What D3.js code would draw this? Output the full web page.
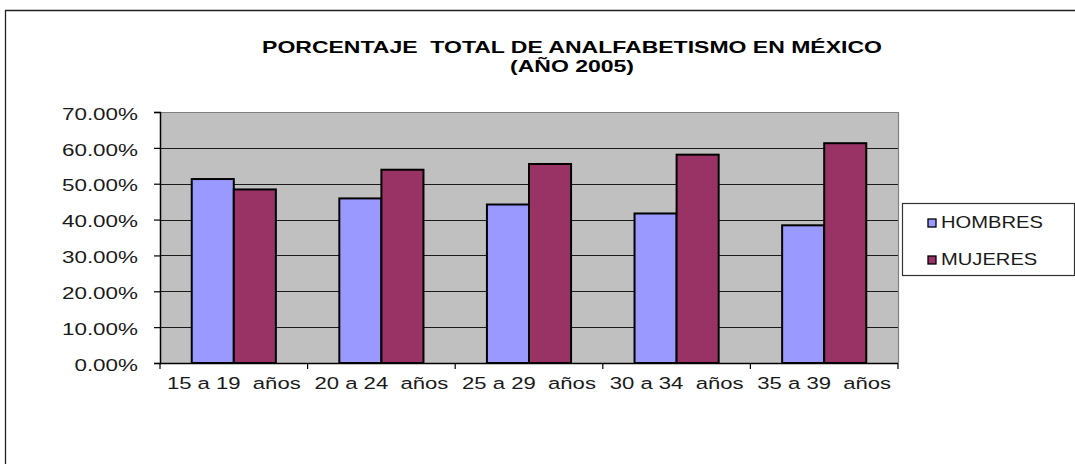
<!DOCTYPE html>
<html><head><meta charset="utf-8">
<script src="https://cdn.jsdelivr.net/npm/d3@7"></script>
<style>
body{margin:0;background:#fff}
svg{display:block}
text{font-family:"Liberation Sans",Arial,sans-serif;white-space:pre;fill:#1a1a1a}
</style>
</head><body>
<svg id="c" width="1075" height="464"></svg>
<script>
const categories = ["15 a 19  años","20 a 24  años","25 a 29  años","30 a 34  años","35 a 39  años"];
const seriesNames = ["HOMBRES","MUJERES"];
const hombres = [51.3, 45.9, 44.2, 41.7, 38.4];
const mujeres = [48.4, 53.9, 55.5, 58.1, 61.3];
const yTicks = [0, 10, 20, 30, 40, 50, 60, 70];
const titleLines = ["PORCENTAJE  TOTAL DE ANALFABETISMO EN MÉXICO", "(AÑO 2005)"];
const colors = ["#9999ff", "#993366"];

const series = [hombres, mujeres];
const svg = d3.select("#c");
const P = {left:160, right:898, top:112, bottom:363};

// outer frame
svg.append("path").attr("d","M5.5,464V10.5H1075").attr("fill","none").attr("stroke","#222").attr("stroke-width",1.3);

// plot area
svg.append("rect").attr("x",P.left).attr("y",P.top).attr("width",P.right-P.left).attr("height",P.bottom-P.top).attr("fill","#c0c0c0");

const x = d3.scaleBand().domain(categories).range([P.left,P.right]).paddingInner(0.43).paddingOuter(0.215);
const x1 = d3.scaleBand().domain(seriesNames).range([0,x.bandwidth()]);
const y = d3.scaleLinear().domain([0,70]).range([P.bottom,P.top]);

// gridlines
svg.append("g").selectAll("line").data(yTicks.filter(d=>d>0)).join("line")
  .attr("x1",P.left).attr("x2",P.right)
  .attr("y1",d=>Math.round(y(d))+0.5).attr("y2",d=>Math.round(y(d))+0.5)
  .attr("stroke",d=>d===70?"#808080":"#1a1a1a").attr("stroke-width",1.2);
// plot border right
svg.append("line").attr("x1",P.right+0.5).attr("x2",P.right+0.5).attr("y1",P.top).attr("y2",P.bottom).attr("stroke","#808080").attr("stroke-width",1.2);

// bars
const groups = svg.append("g").selectAll("g").data(categories).join("g")
  .attr("transform",d=>`translate(${x(d)},0)`);
groups.selectAll("rect").data((c,i)=>seriesNames.map((s,j)=>({s, v:series[j][i], j}))).join("rect")
  .attr("x",d=>x1(d.s)).attr("width",x1.bandwidth())
  .attr("y",d=>y(d.v)).attr("height",d=>y(0)-y(d.v))
  .attr("fill",d=>colors[d.j]).attr("stroke","#000").attr("stroke-width",2);

function stretch(sel,k){
  sel.each(function(){
    const t=d3.select(this);
    const xx=+t.attr("x")||0;
    t.attr("x",xx/k).attr("transform",`scale(${k},1)`);
  });
}

// y axis
const ya = svg.append("g").attr("transform",`translate(${P.left},0)`)
  .call(d3.axisLeft(y).tickValues(yTicks).tickSize(6).tickPadding(16).tickFormat(d=>d.toFixed(2)+"%"));
ya.select(".domain").attr("stroke","#000").attr("stroke-width",1.5);
ya.selectAll(".tick line").attr("stroke","#000").attr("stroke-width",1.2);
ya.selectAll("text").attr("font-size",17).attr("font-family",null).attr("dy","0.42em").call(stretch,1.32);

// x axis
const xa = svg.append("g").attr("transform",`translate(0,${P.bottom})`)
  .call(d3.axisBottom(x).tickSize(0).tickPadding(14));
xa.select(".domain").remove();
xa.selectAll("text").attr("font-size",17).attr("font-family",null).call(stretch,1.3);
svg.append("line").attr("x1",P.left).attr("x2",P.right).attr("y1",P.bottom+0.5).attr("y2",P.bottom+0.5).attr("stroke","#000").attr("stroke-width",1.5);
svg.append("g").selectAll("line").data(d3.range(categories.length+1)).join("line")
  .attr("x1",i=>P.left+i*x.step()).attr("x2",i=>P.left+i*x.step())
  .attr("y1",P.bottom).attr("y2",P.bottom+6).attr("stroke","#000").attr("stroke-width",1.2);

// title
svg.append("g").selectAll("text").data(titleLines).join("text")
  .attr("text-anchor","middle").attr("font-weight","bold").attr("font-size",16.5)
  .style("fill","#000")
  .attr("transform",(d,i)=>`translate(572,${52.5+i*19.5}) scale(1.395,1)`)
  .text(d=>d);

// legend
const L = svg.append("g");
L.append("rect").attr("x",902.5).attr("y",203.5).attr("width",172).attr("height",72).attr("fill","#fff").attr("stroke","#333").attr("stroke-width",1.2);
const li = L.selectAll("g").data(seriesNames).join("g").attr("transform",(d,i)=>`translate(928,${219+i*37})`);
li.append("rect").attr("width",8).attr("height",8).attr("fill",(d,i)=>colors[i]).attr("stroke","#000").attr("stroke-width",1.3);
li.append("text").attr("font-size",16).attr("transform","translate(13,8.5) scale(1.26,1)").text(d=>d);
</script>
</body></html>
